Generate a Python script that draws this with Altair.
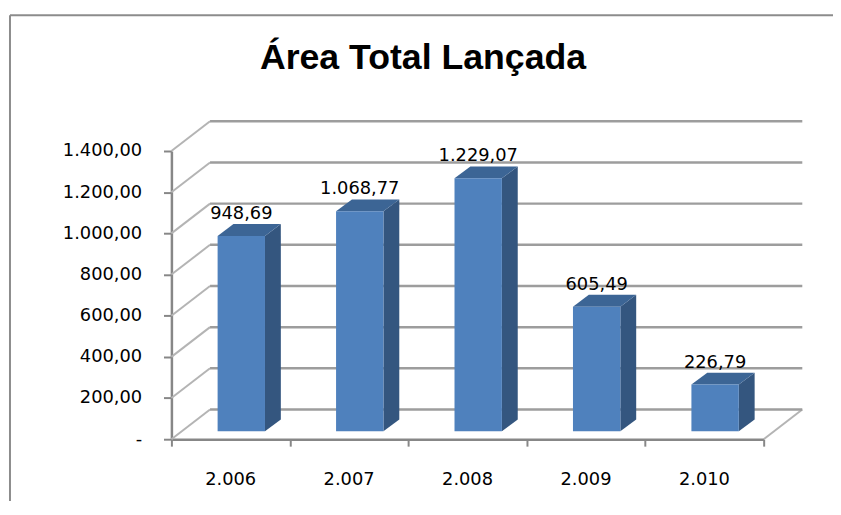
import altair as alt
import pandas as pd

# ---- data ----
TITLE = "Área Total Lançada"
categories = ["2.006", "2.007", "2.008", "2.009", "2.010"]
values = [948.69, 1068.77, 1229.07, 605.49, 226.79]
y_ticks = [0, 200, 400, 600, 800, 1000, 1200, 1400]

# ---- geometry / style constants ----
PLOT_W, PLOT_H = 598, 291
Y_MAX = 1400
N = len(categories)
PX_X = PLOT_W / N
PX_Y = PLOT_H / Y_MAX


def ux(px):
    return px / PX_X


def uy(px):
    return px / PX_Y


WALL_DX, WALL_DY = ux(39), uy(30)
BASE = uy(8)
BAR_L, BAR_R = 0.39, 0.79
BAR_DX, BAR_DY = ux(16), uy(12)

FRONT, SIDE, TOP = "#4f81bd", "#34567f", "#3c6595"
GRID, DIAG, AXIS = "#9d9d9d", "#b4b4b4", "#878787"
LABEL_FONT = "DejaVu Sans"


def br(v):
    s = f"{v:,.2f}"
    return s.replace(",", "#").replace(".", ",").replace("#", ".")


# ---- tables built from the arrays ----
bars = pd.DataFrame({"i": list(range(N)), "cat": categories, "v": values})
bars["x"] = bars["i"] + BAR_L
bars["x2"] = bars["i"] + BAR_R
bars["y"] = BASE + bars["v"]
bars["y2"] = BASE
bars["lx"] = bars["i"] + (BAR_L + BAR_R) / 2
bars["cx"] = bars["i"] + 0.5
bars["label"] = [br(v) for v in values]

side_rows, top_rows = [], []
for i, v in enumerate(values):
    side_rows.append({"i": i, "x": i + BAR_R, "y": BASE + v, "y2": BASE})
    side_rows.append({"i": i, "x": i + BAR_R + BAR_DX, "y": BASE + v + BAR_DY, "y2": BASE + BAR_DY})
    top_rows.append({"i": i, "y": BASE + v, "x": i + BAR_L, "x2": i + BAR_R})
    top_rows.append({"i": i, "y": BASE + v + BAR_DY, "x": i + BAR_L + BAR_DX, "x2": i + BAR_R + BAR_DX})
side = pd.DataFrame(side_rows)
top = pd.DataFrame(top_rows)

grid = pd.DataFrame({"y": [g + WALL_DY for g in y_ticks],
                     "x": [WALL_DX] * len(y_ticks),
                     "x2": [N + WALL_DX] * len(y_ticks)})
diag = pd.DataFrame({"x": [0.0] * len(y_ticks) + [float(N)],
                     "y": [float(g) for g in y_ticks] + [0.0],
                     "x2": [WALL_DX] * len(y_ticks) + [N + WALL_DX],
                     "y2": [g + WALL_DY for g in y_ticks] + [WALL_DY]})

xs = alt.Scale(domain=[0, N], nice=False, zero=False)
ys = alt.Scale(domain=[0, Y_MAX], nice=False, zero=False)

label_expr = ("datum.value == 0 ? '-\u00a0\u00a0' : "
              "replace(replace(replace(format(datum.value, ',.2f'), ',', '#'), '.', ','), '#', '.')")

X_AXIS = alt.Axis(values=list(range(N + 1)), labels=False, title=None,
                  grid=False, domainColor=AXIS, domainWidth=2.5,
                  tickColor=AXIS, tickWidth=2, tickSize=7)
Y_AXIS = alt.Axis(values=y_ticks, labelExpr=label_expr, title=None,
                  grid=False, domainColor=AXIS, domainWidth=2.5,
                  tickColor=AXIS, tickWidth=2, tickSize=8,
                  labelPadding=22, labelFont=LABEL_FONT,
                  labelFontSize=18, labelColor="#000000")


def X(field):
    return alt.X(field, scale=xs, axis=X_AXIS)


def Y(field):
    return alt.Y(field, scale=ys, axis=Y_AXIS)


one = pd.DataFrame({"t": [TITLE]})

# document frame: top and left edges only (the others fall outside the picture)
frame_top = alt.Chart(one).mark_rule(color="#8c8c8c", strokeWidth=2).encode(
    x=alt.value(-163), x2=alt.value(700), y=alt.value(-137))
frame_left = alt.Chart(one).mark_rule(color="#8c8c8c", strokeWidth=2).encode(
    x=alt.value(-163), y=alt.value(-137), y2=alt.value(400))

title = alt.Chart(one).mark_text(font="Liberation Sans", fontWeight="bold", fontSize=36,
                                 align="center", baseline="alphabetic", color="#000000").encode(
    text="t:N", x=alt.value(254), y=alt.value(-83))

diag_l = alt.Chart(diag).mark_rule(color=DIAG, strokeWidth=2).encode(
    x=X("x:Q"), x2="x2:Q", y=Y("y:Q"), y2="y2:Q")

grid_l = alt.Chart(grid).mark_rule(color=GRID, strokeWidth=2.5).encode(
    x=X("x:Q"), x2="x2:Q", y=Y("y:Q"))

side_l = alt.Chart(side).mark_area(color=SIDE, opacity=1).encode(
    x=X("x:Q"), y=Y("y:Q"), y2="y2:Q", detail="i:N")

top_l = alt.Chart(top).mark_area(color=TOP, orient="horizontal", opacity=1).encode(
    y=Y("y:Q"), x=X("x:Q"), x2="x2:Q", detail="i:N")

front_l = alt.Chart(bars).mark_rect(color=FRONT).encode(
    x=X("x:Q"), x2="x2:Q", y=Y("y:Q"), y2="y2:Q")

vlabels = alt.Chart(bars).mark_text(font=LABEL_FONT, fontSize=18, align="center",
                                    baseline="alphabetic", dy=-17, color="#000000").encode(
    x=X("lx:Q"), y=Y("y:Q"), text="label:N")

clabels = alt.Chart(bars).mark_text(font=LABEL_FONT, fontSize=18, align="center",
                                    baseline="alphabetic", color="#000000").encode(
    x=X("cx:Q"), y=alt.value(337), text="cat:N")

chart = alt.layer(frame_top, frame_left, title, diag_l, grid_l, side_l, top_l, front_l,
                  vlabels, clabels).properties(
    width=PLOT_W, height=PLOT_H,
    autosize=alt.AutoSizeParams(type="none"),
    padding={"left": 165, "top": 142, "right": 70, "bottom": 60},
).configure_view(stroke=None)

chart.save("out.html", embed_options={"renderer": "svg", "actions": False})
